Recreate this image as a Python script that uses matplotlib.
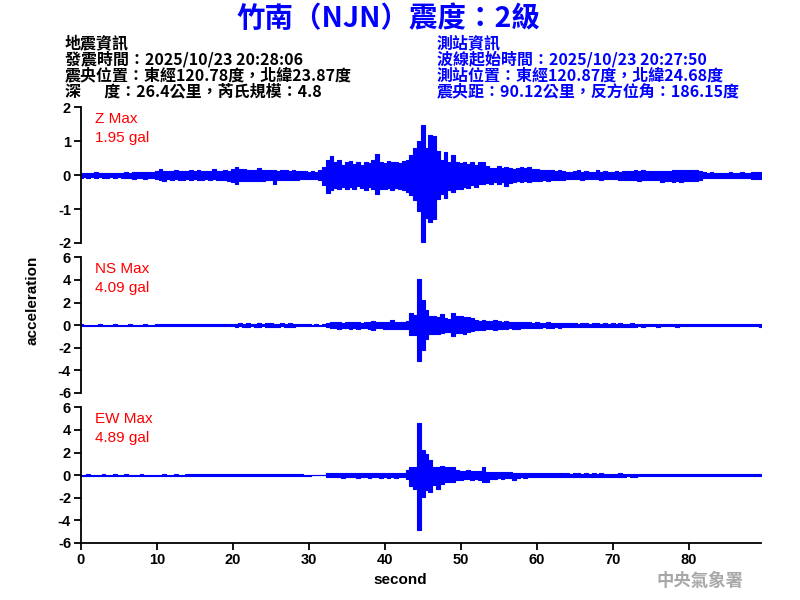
import numpy as np
import matplotlib.pyplot as plt

CJK = ['Noto Sans CJK TC', 'DejaVu Sans']
NUM = ['Liberation Sans', 'DejaVu Sans']

title = '竹南（NJN）震度：2級'
quake_info = ['地震資訊',
              '發震時間：2025/10/23 20:28:06',
              '震央位置：東經120.78度，北緯23.87度',
              '深\u3000  度：26.4公里，芮氏規模：4.8']
station_info = ['測站資訊',
                '波線起始時間：2025/10/23 20:27:50',
                '測站位置：東經120.87度，北緯24.68度',
                '震央距：90.12公里，反方位角：186.15度']

channels = ['Z', 'NS', 'EW']
max_gal = [1.95, 4.09, 4.89]
y_limits = [2, 6, 6]
y_ticks = [[-2, -1, 0, 1, 2], [-6, -4, -2, 0, 2, 4, 6], [-6, -4, -2, 0, 2, 4, 6]]
x_ticks = [0, 10, 20, 30, 40, 50, 60, 70, 80]
x_max = 89.5
step = 0.5  # seconds between envelope readings

# envelope of each trace, read every 0.5 s (one row = 10 s)
z_upper = [
    0.07, 0.06, 0.07, 0.06, 0.08, 0.06, 0.07, 0.06, 0.07, 0.06, 0.07, 0.06, 0.08, 0.07, 0.09, 0.08, 0.10, 0.08, 0.09, 0.10,
    0.13, 0.17, 0.12, 0.13, 0.11, 0.14, 0.12, 0.13, 0.11, 0.15, 0.12, 0.14, 0.12, 0.13, 0.11, 0.17, 0.13, 0.12, 0.14, 0.13,
    0.18, 0.25, 0.18, 0.17, 0.16, 0.15, 0.14, 0.20, 0.15, 0.14, 0.15, 0.14, 0.13, 0.14, 0.15, 0.13, 0.14, 0.12, 0.13, 0.12,
    0.10, 0.12, 0.10, 0.15, 0.25, 0.45, 0.55, 0.40, 0.45, 0.30, 0.38, 0.42, 0.32, 0.38, 0.30, 0.40, 0.36, 0.45, 0.62, 0.40,
    0.35, 0.42, 0.38, 0.40, 0.36, 0.42, 0.45, 0.60, 0.80, 1.00, 1.47, 0.80, 1.18, 1.15, 0.70, 0.45, 0.69, 0.40, 0.60, 0.38,
    0.35, 0.40, 0.32, 0.38, 0.30, 0.39, 0.38, 0.28, 0.20, 0.22, 0.27, 0.20, 0.25, 0.20, 0.18, 0.22, 0.23, 0.20, 0.23, 0.18,
    0.18, 0.15, 0.16, 0.14, 0.15, 0.13, 0.14, 0.12, 0.10, 0.10, 0.11, 0.15, 0.10, 0.11, 0.10, 0.10, 0.15, 0.10, 0.11, 0.10,
    0.10, 0.11, 0.10, 0.12, 0.13, 0.12, 0.16, 0.13, 0.15, 0.13, 0.12, 0.13, 0.12, 0.11, 0.13, 0.12, 0.14, 0.15, 0.16, 0.15,
    0.14, 0.16, 0.15, 0.12, 0.08, 0.07, 0.08, 0.07, 0.06, 0.07, 0.07, 0.08, 0.07, 0.06, 0.08, 0.07, 0.07, 0.08, 0.10, 0.10,
]
z_lower = [
    -0.07, -0.06, -0.08, -0.06, -0.07, -0.06, -0.07, -0.07, -0.06, -0.07, -0.06, -0.07, -0.08, -0.09, -0.10, -0.08, -0.09, -0.10, -0.09, -0.08,
    -0.12, -0.13, -0.17, -0.12, -0.14, -0.12, -0.13, -0.14, -0.12, -0.13, -0.12, -0.13, -0.14, -0.12, -0.13, -0.12, -0.14, -0.13, -0.15, -0.18,
    -0.20, -0.27, -0.18, -0.17, -0.16, -0.17, -0.16, -0.18, -0.16, -0.15, -0.14, -0.25, -0.15, -0.14, -0.13, -0.14, -0.15, -0.13, -0.12, -0.11,
    -0.10, -0.10, -0.12, -0.15, -0.30, -0.52, -0.45, -0.38, -0.40, -0.35, -0.42, -0.35, -0.40, -0.32, -0.38, -0.45, -0.35, -0.40, -0.57, -0.42,
    -0.40, -0.38, -0.45, -0.38, -0.40, -0.45, -0.50, -0.60, -0.74, -1.05, -1.97, -1.25, -1.38, -1.30, -0.70, -0.55, -0.68, -0.45, -0.50, -0.40,
    -0.40, -0.35, -0.38, -0.30, -0.35, -0.27, -0.25, -0.22, -0.25, -0.20, -0.25, -0.20, -0.32, -0.22, -0.20, -0.18, -0.20, -0.17, -0.19, -0.18,
    -0.17, -0.18, -0.15, -0.16, -0.15, -0.14, -0.15, -0.13, -0.12, -0.12, -0.11, -0.12, -0.13, -0.11, -0.12, -0.12, -0.11, -0.13, -0.12, -0.11,
    -0.12, -0.11, -0.13, -0.15, -0.14, -0.15, -0.14, -0.16, -0.15, -0.14, -0.15, -0.14, -0.15, -0.20, -0.16, -0.18, -0.19, -0.17, -0.20, -0.18,
    -0.17, -0.18, -0.16, -0.14, -0.09, -0.08, -0.07, -0.08, -0.07, -0.08, -0.07, -0.08, -0.09, -0.07, -0.08, -0.07, -0.08, -0.10, -0.12, -0.11,
]
ns_upper = [
    0.06, 0.05, 0.04, 0.05, 0.04, 0.08, 0.04, 0.05, 0.04, 0.06, 0.04, 0.05, 0.04, 0.06, 0.04, 0.05, 0.04, 0.07, 0.05, 0.04,
    0.06, 0.08, 0.07, 0.06, 0.09, 0.07, 0.08, 0.06, 0.09, 0.07, 0.08, 0.06, 0.07, 0.09, 0.08, 0.07, 0.06, 0.08, 0.07, 0.09,
    0.12, 0.10, 0.15, 0.12, 0.18, 0.14, 0.12, 0.16, 0.13, 0.15, 0.18, 0.12, 0.14, 0.17, 0.13, 0.15, 0.12, 0.14, 0.10, 0.08,
    0.06, 0.05, 0.06, 0.05, 0.07, 0.20, 0.30, 0.25, 0.28, 0.22, 0.30, 0.25, 0.32, 0.28, 0.22, 0.30, 0.27, 0.35, 0.30, 0.25,
    0.30, 0.28, 0.44, 0.30, 0.32, 0.28, 0.35, 1.10, 0.90, 4.07, 2.20, 1.30, 0.80, 0.85, 0.75, 1.00, 0.60, 0.55, 1.10, 0.80,
    0.80, 0.70, 0.75, 0.60, 0.45, 0.40, 0.45, 0.35, 0.40, 0.45, 0.35, 0.30, 0.35, 0.30, 0.32, 0.28, 0.30, 0.25, 0.24, 0.22,
    0.24, 0.20, 0.22, 0.24, 0.20, 0.22, 0.18, 0.20, 0.15, 0.16, 0.15, 0.14, 0.16, 0.15, 0.14, 0.16, 0.15, 0.13, 0.15, 0.14,
    0.15, 0.14, 0.15, 0.13, 0.14, 0.15, 0.13, 0.14, 0.12, 0.13, 0.12, 0.11, 0.12, 0.13, 0.11, 0.12, 0.11, 0.12, 0.13, 0.11,
    0.12, 0.11, 0.12, 0.10, 0.11, 0.12, 0.10, 0.11, 0.12, 0.10, 0.11, 0.12, 0.10, 0.11, 0.10, 0.12, 0.11, 0.10, 0.12, 0.13,
]
ns_lower = [
    -0.05, -0.04, -0.05, -0.04, -0.06, -0.04, -0.05, -0.04, -0.06, -0.04, -0.05, -0.04, -0.05, -0.04, -0.07, -0.04, -0.05, -0.04, -0.05, -0.06,
    -0.07, -0.06, -0.08, -0.07, -0.06, -0.09, -0.07, -0.08, -0.06, -0.07, -0.09, -0.07, -0.08, -0.06, -0.07, -0.08, -0.09, -0.07, -0.10, -0.08,
    -0.12, -0.15, -0.10, -0.18, -0.13, -0.12, -0.16, -0.14, -0.12, -0.17, -0.14, -0.13, -0.18, -0.12, -0.15, -0.13, -0.14, -0.12, -0.09, -0.08,
    -0.06, -0.05, -0.06, -0.05, -0.08, -0.20, -0.28, -0.25, -0.30, -0.22, -0.28, -0.35, -0.25, -0.30, -0.28, -0.22, -0.30, -0.40, -0.28, -0.25,
    -0.30, -0.35, -0.30, -0.38, -0.30, -0.32, -0.30, -0.90, -0.90, -3.16, -2.20, -1.20, -0.80, -0.75, -0.80, -0.70, -0.60, -0.60, -1.00, -0.70,
    -0.70, -0.75, -0.60, -0.50, -0.45, -0.40, -0.42, -0.38, -0.35, -0.40, -0.35, -0.30, -0.32, -0.28, -0.30, -0.38, -0.28, -0.25, -0.27, -0.24,
    -0.22, -0.24, -0.20, -0.22, -0.24, -0.20, -0.22, -0.18, -0.16, -0.15, -0.16, -0.14, -0.15, -0.16, -0.14, -0.15, -0.16, -0.14, -0.15, -0.14,
    -0.14, -0.15, -0.13, -0.14, -0.15, -0.13, -0.14, -0.12, -0.13, -0.12, -0.11, -0.12, -0.13, -0.11, -0.12, -0.11, -0.12, -0.13, -0.11, -0.12,
    -0.11, -0.12, -0.10, -0.11, -0.12, -0.10, -0.11, -0.12, -0.10, -0.11, -0.12, -0.10, -0.11, -0.12, -0.10, -0.11, -0.12, -0.11, -0.12, -0.13,
]
ew_upper = [
    0.05, 0.04, 0.06, 0.04, 0.05, 0.04, 0.06, 0.05, 0.04, 0.06, 0.05, 0.04, 0.06, 0.04, 0.05, 0.04, 0.06, 0.05, 0.04, 0.05,
    0.05, 0.04, 0.06, 0.05, 0.04, 0.06, 0.05, 0.04, 0.08, 0.10, 0.09, 0.10, 0.08, 0.10, 0.09, 0.08, 0.10, 0.09, 0.11, 0.10,
    0.09, 0.10, 0.08, 0.10, 0.12, 0.10, 0.11, 0.12, 0.10, 0.11, 0.12, 0.10, 0.09, 0.11, 0.10, 0.09, 0.08, 0.07, 0.06, 0.05,
    0.04, 0.03, 0.03, 0.03, 0.03, 0.15, 0.20, 0.15, 0.22, 0.18, 0.20, 0.15, 0.22, 0.18, 0.20, 0.22, 0.16, 0.20, 0.18, 0.22,
    0.20, 0.18, 0.22, 0.20, 0.18, 0.22, 0.45, 0.75, 0.70, 4.57, 2.20, 1.90, 1.30, 0.75, 0.70, 0.80, 0.75, 0.70, 0.75, 0.45,
    0.40, 0.35, 0.42, 0.38, 0.40, 0.35, 0.68, 0.30, 0.32, 0.28, 0.30, 0.25, 0.30, 0.28, 0.22, 0.20, 0.22, 0.20, 0.18, 0.20,
    0.20, 0.18, 0.20, 0.17, 0.19, 0.20, 0.18, 0.16, 0.15, 0.14, 0.15, 0.16, 0.14, 0.15, 0.13, 0.15, 0.14, 0.15, 0.13, 0.14,
    0.14, 0.13, 0.15, 0.12, 0.14, 0.13, 0.12, 0.14, 0.10, 0.11, 0.10, 0.12, 0.10, 0.11, 0.10, 0.09, 0.10, 0.11, 0.10, 0.09,
    0.10, 0.09, 0.10, 0.11, 0.10, 0.09, 0.10, 0.09, 0.11, 0.10, 0.09, 0.10, 0.11, 0.09, 0.10, 0.09, 0.10, 0.11, 0.10, 0.09,
]
ew_lower = [
    -0.04, -0.05, -0.04, -0.06, -0.04, -0.05, -0.04, -0.06, -0.05, -0.04, -0.05, -0.06, -0.04, -0.05, -0.04, -0.06, -0.04, -0.05, -0.04, -0.05,
    -0.04, -0.05, -0.04, -0.06, -0.05, -0.04, -0.06, -0.05, -0.08, -0.10, -0.09, -0.10, -0.08, -0.09, -0.10, -0.08, -0.09, -0.10, -0.09, -0.10,
    -0.10, -0.09, -0.11, -0.10, -0.12, -0.11, -0.10, -0.12, -0.11, -0.10, -0.12, -0.10, -0.09, -0.11, -0.10, -0.09, -0.08, -0.07, -0.06, -0.05,
    -0.04, -0.03, -0.03, -0.03, -0.03, -0.15, -0.18, -0.20, -0.15, -0.22, -0.18, -0.20, -0.15, -0.22, -0.18, -0.20, -0.25, -0.18, -0.20, -0.22,
    -0.20, -0.22, -0.18, -0.22, -0.20, -0.18, -0.35, -1.00, -1.20, -4.89, -1.90, -1.30, -1.50, -0.90, -1.20, -0.80, -0.60, -0.65, -0.60, -0.45,
    -0.40, -0.38, -0.35, -0.42, -0.38, -0.40, -0.60, -0.60, -0.30, -0.32, -0.28, -0.30, -0.25, -0.28, -0.45, -0.25, -0.20, -0.22, -0.20, -0.18,
    -0.18, -0.20, -0.17, -0.19, -0.20, -0.18, -0.17, -0.15, -0.16, -0.15, -0.14, -0.15, -0.16, -0.14, -0.15, -0.13, -0.15, -0.14, -0.13, -0.15,
    -0.13, -0.15, -0.14, -0.13, -0.12, -0.14, -0.13, -0.12, -0.10, -0.11, -0.10, -0.09, -0.11, -0.10, -0.09, -0.10, -0.11, -0.10, -0.09, -0.10,
    -0.09, -0.10, -0.09, -0.10, -0.11, -0.10, -0.09, -0.10, -0.09, -0.10, -0.11, -0.09, -0.10, -0.09, -0.10, -0.11, -0.09, -0.10, -0.09, -0.10,
]

uppers = [z_upper, ns_upper, ew_upper]
lowers = [z_lower, ns_lower, ew_lower]

fig = plt.figure(figsize=(8, 6), dpi=100, facecolor='white')

# header
fig.text(0.485, 0.968, title, ha='center', va='center', color='#0000ff',
         fontsize=20.5, fontweight='bold', family=CJK)
for i, line in enumerate(quake_info):
    fig.text(0.081, 0.928 - i * 0.0268, line, ha='left', va='center',
             color='black', fontsize=11.5, fontweight='bold', family=CJK)
for i, line in enumerate(station_info):
    fig.text(0.546, 0.928 - i * 0.0268, line, ha='left', va='center',
             color='#0000ff', fontsize=11.5, fontweight='bold', family=CJK)

# three panels, pixel layout of the original 800x600 picture
panel_tops = [0.8212, 0.5712, 0.3212]
panel_h = 0.2262
left, width = 0.101, 0.850

for k, ch in enumerate(channels):
    ax = fig.add_axes([left, panel_tops[k] - panel_h, width, panel_h])
    up = np.array(uppers[k])
    lo = np.array(lowers[k])
    t = np.arange(len(up)) * step
    ax.fill_between(t, lo, up, step='mid', facecolor='#0000ff',
                    edgecolor='#0000ff', linewidth=0.8)

    lim = y_limits[k]
    ax.set_xlim(0, x_max)
    ax.set_ylim(-lim, lim)
    ax.set_yticks(y_ticks[k])
    ax.set_yticklabels([str(v) for v in y_ticks[k]], fontweight='bold',
                       family=NUM, fontsize=10.5)

    for s in ['top', 'right']:
        ax.spines[s].set_visible(False)
    ax.spines['left'].set_linewidth(1.3)
    ax.tick_params(axis='y', direction='out', length=5, width=1.3, pad=2)

    if k < 2:
        ax.spines['bottom'].set_visible(False)
        ax.set_xticks([])
    else:
        ax.spines['bottom'].set_linewidth(1.3)
        ax.set_xticks(x_ticks)
        ax.set_xticklabels([str(v) for v in x_ticks], fontweight='bold',
                           family=NUM, fontsize=10.5)
        ax.tick_params(axis='x', direction='out', length=5, width=1.3, pad=2)

    ax.text(0.021, 0.915, ch + ' Max', transform=ax.transAxes, color='red',
            fontsize=11, family=NUM, ha='left', va='center')
    ax.text(0.021, 0.77, '%.2f gal' % max_gal[k], transform=ax.transAxes,
            color='red', fontsize=11, family=NUM, ha='left', va='center')

fig.text(0.041, 0.5, 'acceleration', rotation=90, ha='center', va='center',
         fontsize=11, fontweight='bold', family=NUM)
fig.text(0.5, 0.033, 'second', ha='center', va='center',
         fontsize=11, fontweight='bold', family=NUM)
fig.text(0.875, 0.032, '中央氣象署', ha='center', va='center', color='#a8a8a8',
         fontsize=12.5, fontweight='bold', family=CJK)

fig.savefig('out.png', dpi=100, facecolor='white')
